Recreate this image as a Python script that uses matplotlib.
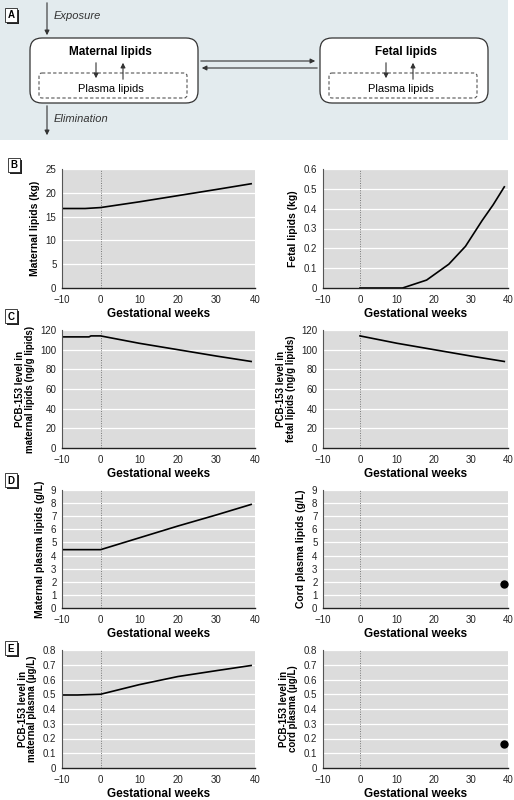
import matplotlib
matplotlib.use('Agg')
import matplotlib.pyplot as plt
from matplotlib import font_manager
from matplotlib.patches import FancyBboxPatch, Rectangle

# look for a condensed face, like the narrow type of the original
fonts = font_manager.fontManager.ttflist
have_narrow = any(f.name == 'Liberation Sans Narrow' for f in fonts)
if have_narrow:
    plt.rcParams['font.family'] = ['Liberation Sans Narrow', 'DejaVu Sans']
else:
    plt.rcParams['font.family'] = ['Liberation Sans', 'DejaVu Sans']

# data
mat_lip_x = [-10, -4, 0, 10, 20, 30, 39]
mat_lip_y = [16.7, 16.7, 16.9, 18.1, 19.4, 20.7, 21.9]
fet_lip_x = [0, 11.5, 18, 24, 28.5, 33, 36, 39]
fet_lip_y = [0, 0, 0.04, 0.12, 0.21, 0.34, 0.42, 0.51]
mat_pcb_x = [-10, -3, -2.5, 0, 10, 20, 30, 39]
mat_pcb_y = [113, 113, 114, 114, 106.5, 100, 93.5, 88]
fet_pcb_x = [0, 10, 20, 30, 39]
fet_pcb_y = [114, 106.5, 100, 93.5, 88]
mat_plasma_x = [-10, 0, 10, 20, 30, 39]
mat_plasma_y = [4.45, 4.45, 5.35, 6.25, 7.1, 7.9]
cord_plasma_x = [39]
cord_plasma_y = [1.8]
mat_pcb_pl_x = [-10, -6, 0, 10, 20, 30, 39]
mat_pcb_pl_y = [0.495, 0.495, 0.5, 0.565, 0.62, 0.66, 0.695]
cord_pcb_x = [39]
cord_pcb_y = [0.165]

W, H = 514, 800
fig = plt.figure(figsize=(W / 100, H / 100), dpi=100)

def px_axes(l, t, r, b):
    return fig.add_axes([l / W, 1 - b / H, (r - l) / W, (b - t) / H])

# ---- panel A diagram ----
dax = fig.add_axes([0, 0, 1, 1], zorder=0)
dax.set_xlim(0, W)
dax.set_ylim(H, 0)
dax.axis('off')
dax.add_patch(Rectangle((0, 0), 508, 140, color='#e3ebee', lw=0))
arrow = dict(arrowstyle='-|>', color='#333333', lw=0.8, mutation_scale=7)
for x0 in (30, 320):
    dax.add_patch(FancyBboxPatch((x0, 38), 168, 65, boxstyle='round,pad=0,rounding_size=12',
                                 fc='white', ec='#333333', lw=0.9))
    dax.add_patch(FancyBboxPatch((x0 + 9, 73), 148, 25, boxstyle='round,pad=0,rounding_size=3',
                                 fc='none', ec='#555555', lw=0.8, ls=(0, (3, 2))))
    cx = x0 + 84
    dax.text(cx - 3, 89, 'Plasma lipids', ha='center', va='center', fontsize=8)
    dax.annotate('', xy=(cx - 18, 81), xytext=(cx - 18, 60), arrowprops=arrow)
    dax.annotate('', xy=(cx + 9, 60), xytext=(cx + 9, 82), arrowprops=arrow)
dax.text(110, 52, 'Maternal lipids', ha='center', va='center', fontsize=8.5, fontweight='bold')
dax.text(406, 52, 'Fetal lipids', ha='center', va='center', fontsize=8.5, fontweight='bold')
dax.annotate('', xy=(318, 61), xytext=(198, 61), arrowprops=arrow)
dax.annotate('', xy=(199, 68), xytext=(320, 68), arrowprops=arrow)
dax.annotate('', xy=(47, 38), xytext=(47, 0), arrowprops=arrow)
dax.annotate('', xy=(47, 138), xytext=(47, 103), arrowprops=arrow)
dax.text(54, 16, 'Exposure', fontsize=8, style='italic', va='center', color='#333333')
dax.text(54, 119, 'Elimination', fontsize=8, style='italic', va='center', color='#333333')

# panel letters with shadowed boxes
for letter, lx, ly in [('A', 5, 8), ('B', 8, 158), ('C', 5, 309), ('D', 5, 473), ('E', 5, 641)]:
    dax.add_patch(Rectangle((lx + 2, ly + 2), 12, 14, color='#222222', lw=0))
    dax.add_patch(Rectangle((lx, ly), 12, 14, fc='white', ec='#222222', lw=0.6))
    dax.text(lx + 6, ly + 7.5, letter, ha='center', va='center', fontsize=7, fontweight='bold')

def tick_fmt(v, pos):
    return '0' if v == 0 else '%g' % v

# ---- line panels ----
def panel(l, t, r, b, ylim, yticks, ylabel, x, y, marker=False):
    ax = px_axes(l, t, r, b)
    ax.set_facecolor('#dcdcdc')
    ax.set_xlim(-10, 40)
    ax.set_ylim(*ylim)
    ax.set_yticks(yticks)
    ax.yaxis.set_major_formatter(tick_fmt)
    ax.set_xticks([-10, 0, 10, 20, 30, 40])
    ax.set_xticklabels(['\u221210', '0', '10', '20', '30', '40'])
    ax.yaxis.grid(True, color='white', lw=0.9)
    ax.set_axisbelow(True)
    for s in ('top', 'right'):
        ax.spines[s].set_visible(False)
    ax.spines['left'].set_color('#555555')
    ax.spines['bottom'].set_color('#222222')
    ax.spines['left'].set_linewidth(0.8)
    ax.spines['bottom'].set_linewidth(1.0)
    ax.tick_params(labelsize=7, length=0, colors='#222222')
    ax.tick_params(axis='x', pad=5)
    ax.tick_params(axis='y', pad=4)
    ax.axvline(0, color='#777777', lw=0.7, ls=(0, (1, 1.5)))
    if marker:
        ax.plot(x, y, 'o', color='black', markersize=5, clip_on=False)
    else:
        ax.plot(x, y, color='black', lw=1.2)
    fs = 7 if '\n' in ylabel else 7.5
    ax.set_ylabel(ylabel, fontsize=fs, fontweight='bold', labelpad=4, linespacing=0.95)
    ax.set_xlabel('Gestational weeks', fontsize=8.5, fontweight='bold', labelpad=2)
    return ax

L1, R1, L2, R2 = 62, 255, 323, 508
panel(L1, 169, R1, 288, (0, 25), range(0, 26, 5), 'Maternal lipids (kg)', mat_lip_x, mat_lip_y)
panel(L2, 169, R2, 288, (0, 0.6), [0, 0.1, 0.2, 0.3, 0.4, 0.5, 0.6], 'Fetal lipids (kg)', fet_lip_x, fet_lip_y)
panel(L1, 330, R1, 448, (0, 120), range(0, 121, 20), 'PCB-153 level in\nmaternal lipids (ng/g lipids)', mat_pcb_x, mat_pcb_y)
panel(L2, 330, R2, 448, (0, 120), range(0, 121, 20), 'PCB-153 level in\nfetal lipids (ng/g lipids)', fet_pcb_x, fet_pcb_y)
panel(L1, 490, R1, 608, (0, 9), range(0, 10), 'Maternal plasma lipids (g/L)', mat_plasma_x, mat_plasma_y)
panel(L2, 490, R2, 608, (0, 9), range(0, 10), 'Cord plasma lipids (g/L)', cord_plasma_x, cord_plasma_y, marker=True)
panel(L1, 650, R1, 768, (0, 0.8), [0, 0.1, 0.2, 0.3, 0.4, 0.5, 0.6, 0.7, 0.8],
      'PCB-153 level in\nmaternal plasma (\u00b5g/L)', mat_pcb_pl_x, mat_pcb_pl_y)
panel(L2, 650, R2, 768, (0, 0.8), [0, 0.1, 0.2, 0.3, 0.4, 0.5, 0.6, 0.7, 0.8],
      'PCB-153 level in\ncord plasma (\u00b5g/L)', cord_pcb_x, cord_pcb_y, marker=True)

fig.savefig('out.png', dpi=100)
